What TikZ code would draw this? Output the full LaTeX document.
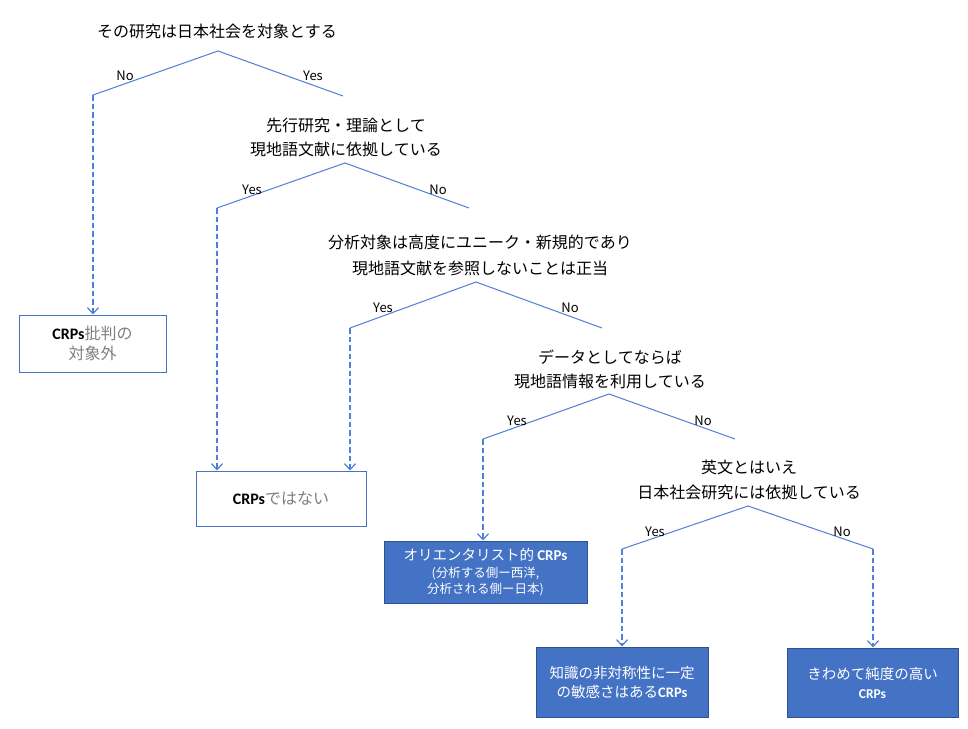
\documentclass[tikz,border=0pt]{standalone}
\usepackage{fontspec}
\setmainfont{Noto Sans CJK JP}
\newfontfamily\crpsfont{Carlito}
\usetikzlibrary{arrows.meta}

\definecolor{flowblue}{HTML}{4472C4}
\definecolor{flowline}{HTML}{4F7FD6}
\definecolor{flowedge}{HTML}{2F528F}
\definecolor{jpgray}{HTML}{7F7F7F}
\newcommand{\crps}[1][16]{{\crpsfont\bfseries\fontsize{#1}{#1}\selectfont CRPs}}

\tikzset{
  branch/.style={flowline, line width=1pt},
  toanswer/.style={flowline, line width=1.3pt, dash pattern=on 5.5pt off 3pt, -{Straight Barb[length=6pt,width=11pt,line width=1.2pt]}},
  question/.style={align=center, inner sep=0pt, font=\fontsize{16}{24}\selectfont},
  yesno/.style={inner sep=0pt, font=\fontsize{13}{13}\selectfont},
  plainbox/.style={draw=flowblue, line width=1pt, align=center, text=jpgray, font=\fontsize{16}{20}\selectfont},
  filledbox/.style={draw=flowedge, line width=1pt, fill=flowblue, text=white, align=center, font=\fontsize{14.5}{20}\selectfont}
}

\begin{document}
\begin{tikzpicture}[x=1pt,y=-1pt]

  \fill [white] (0,0) rectangle (968,728);
  \useasboundingbox (0,0) rectangle (968,728);

  % questions
  \node [question] (q1) at (217,31) {その研究は日本社会を対象とする};
  \node [question] (q2) at (346,137) {先行研究・理論として\\現地語文献に依拠している};
  \node [question] (q3) at (480,255) {分析対象は高度にユニーク・新規的であり\\[2pt]現地語文献を参照しないことは正当};
  \node [question] (q4) at (610,369) {データとしてならば\\現地語情報を利用している};
  \node [question] (q5) at (749,479.5) {英文とはいえ\\[1pt]日本社会研究には依拠している};

  % branch points
  \coordinate (q1top) at (218,51);  \coordinate (q1no)  at (93,95);   \coordinate (q1yes) at (343,96);
  \coordinate (q2top) at (345,163); \coordinate (q2yes) at (217,208); \coordinate (q2no)  at (469,208);
  \coordinate (q3top) at (476,282); \coordinate (q3yes) at (350,328); \coordinate (q3no)  at (602,328);
  \coordinate (q4top) at (609,394); \coordinate (q4yes) at (483,439); \coordinate (q4no)  at (735,439);
  \coordinate (q5top) at (748,506); \coordinate (q5yes) at (622,549); \coordinate (q5no)  at (873,549);

  \draw [branch] (q1no) -- (q1top) -- (q1yes);
  \draw [branch] (q2yes) -- (q2top) -- (q2no);
  \draw [branch] (q3yes) -- (q3top) -- (q3no);
  \draw [branch] (q4yes) -- (q4top) -- (q4no);
  \draw [branch] (q5yes) -- (q5top) -- (q5no);

  \node [yesno] (l1n) at (125,76) {No};  \node [yesno] (l1y) at (313,76) {Yes};
  \node [yesno] (l2y) at (252,190) {Yes}; \node [yesno] (l2n) at (438,190) {No};
  \node [yesno] (l3y) at (383,308) {Yes}; \node [yesno] (l3n) at (570,308) {No};
  \node [yesno] (l4y) at (517,421) {Yes}; \node [yesno] (l4n) at (703,421) {No};
  \node [yesno] (l5y) at (655,532) {Yes}; \node [yesno] (l5n) at (842,532) {No};

  % answers
  \node [plainbox, minimum width=147pt, minimum height=57pt] (outside) at (92.5,343.5) {{\color{black}\crps}批判の\\対象外};
  \node [plainbox, minimum width=170pt, minimum height=55pt] (notcrps) at (281,498.5) {{\color{black}\crps}ではない};
  \node [filledbox, minimum width=203pt, minimum height=62pt] (orient) at (485.5,572) {オリエンタリスト的 \crps[15]\\[-3pt]{\fontsize{12.5}{15}\selectfont (分析する側ー西洋,}\\[-4pt]{\fontsize{12.5}{15}\selectfont 分析される側ー日本)}};
  \node [filledbox, minimum width=172pt, minimum height=70pt] (aware) at (622,682) {知識の非対称性に一定\\[-1pt]の敏感さはある\crps[14.5]};
  \node [filledbox, minimum width=171pt, minimum height=69pt] (pure) at (872.5,682.5) {きわめて純度の高い\\[-1pt]\crps[13.5]};

  \draw [toanswer] (q1no) -- (q1no |- outside.north);
  \draw [toanswer] (q2yes) -- (q2yes |- notcrps.north);
  \draw [toanswer] (q3yes) -- (q3yes |- notcrps.north);
  \draw [toanswer] (q4yes) -- (q4yes |- orient.north);
  \draw [toanswer] (q5yes) -- (q5yes |- aware.north);
  \draw [toanswer] (q5no) -- (q5no |- pure.north);

\end{tikzpicture}
\end{document}
